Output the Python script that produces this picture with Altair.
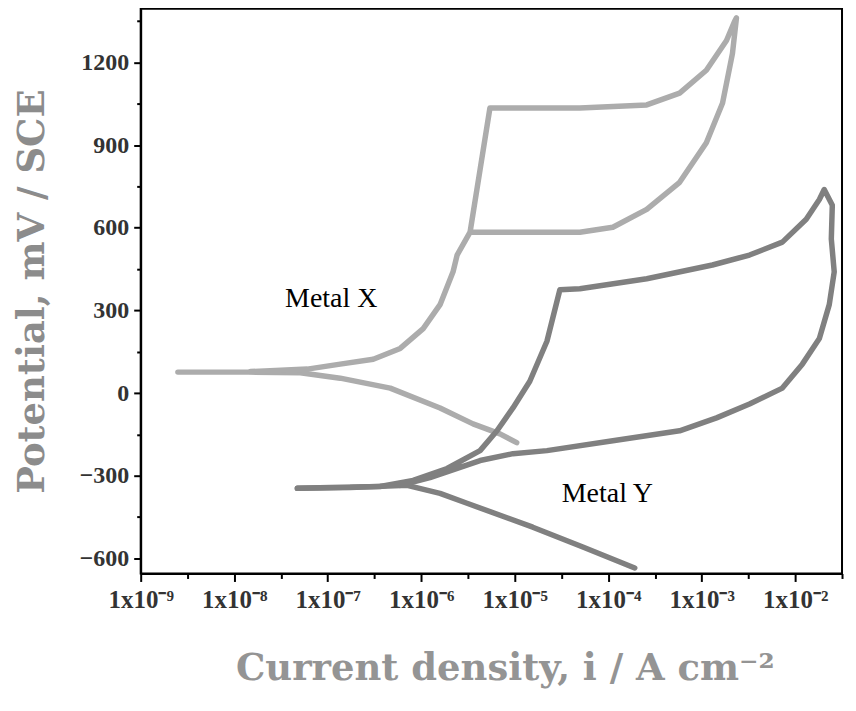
import altair as alt
import pandas as pd

# Metal X – cathodic branch (from high current back to E_corr)
x_cat_i = [1.05e-5, 6.95e-6, 3.58e-6, 1.59e-6, 4.66e-7, 1.36e-7, 5.1e-8, 1.5e-8, 2.5e-9]
x_cat_e = [-180, -148, -112, -54, 18, 54, 74, 76, 76]
# Metal X – anodic branch with reverse scan
x_an_i = [1.5e-8, 6.05e-8, 1.36e-7, 3.07e-7, 5.96e-7, 1.05e-6, 1.59e-6, 2.19e-6, 2.42e-6,
          3.33e-6, 4.26e-6, 5.43e-6, 5.9e-6, 4.97e-5, 2.58e-4, 5.8e-4, 1.12e-3, 1.84e-3,
          2.24e-3, 2.35e-3, 2.13e-3, 1.67e-3, 1.12e-3, 5.8e-4, 2.58e-4, 1.12e-4, 4.97e-5, 3.33e-6]
x_an_e = [78, 87, 105, 123, 162, 234, 321, 440, 501,
          584, 811, 1035, 1035, 1035, 1046, 1089, 1172, 1280,
          1349, 1362, 1233, 1053, 909, 765, 667, 602, 584, 584]

# Metal Y – cathodic branch
y_cat_i = [1.92e-4, 5.35e-5, 1.56e-5, 3.09e-6, 1.59e-6, 7.08e-7, 1.74e-7, 4.74e-8]
y_cat_e = [-635, -559, -487, -400, -364, -335, -343, -346]
# Metal Y – anodic branch with reverse scan
y_an_i = [4.74e-8, 1.07e-7, 3.64e-7, 8.2e-7, 1.89e-6, 4.26e-6, 6.46e-6, 9.57e-6, 1.45e-5,
          2.21e-5, 3.04e-5, 4.97e-5, 2.58e-4, 1.30e-3, 3.24e-3, 7.28e-3, 1.31e-2, 1.81e-2,
          2.04e-2, 2.49e-2, 2.43e-2, 2.61e-2, 2.31e-2, 1.81e-2, 1.19e-2, 7.28e-3, 3.24e-3,
          1.44e-3, 5.8e-4, 1.12e-4, 2.21e-5, 9.57e-6, 4.26e-6, 1.24e-6, 5.96e-7]
y_an_e = [-346, -343, -339, -317, -274, -209, -137, -54, 43,
          188, 375, 379, 415, 465, 501, 548, 631, 703,
          739, 682, 559, 440, 321, 198, 105, 18, -40,
          -90, -137, -173, -209, -220, -245, -307, -335]

labels = ["Metal X", "Metal Y"]
label_i = [1.09e-7, 9.8e-5]
label_e = [343, -368]

x_ticks = [10 ** (-9 + 0.5 * k) for k in range(16)]
y_ticks = list(range(-600, 1351, 150))
x_tick_text = ["1x10⁻⁹", "1x10⁻⁸", "1x10⁻⁷", "1x10⁻⁶", "1x10⁻⁵", "1x10⁻⁴", "1x10⁻³", "1x10⁻²"]

rows = []
def add(metal, branch, cur, pot):
    for k, (c, p) in enumerate(zip(cur, pot)):
        rows.append({"metal": metal, "branch": metal + branch, "i": c, "E": p, "o": k})
add("Metal X", "cat", x_cat_i, x_cat_e)
add("Metal X", "an", x_an_i, x_an_e)
add("Metal Y", "cat", y_cat_i, y_cat_e)
add("Metal Y", "an", y_an_i, y_an_e)
df = pd.DataFrame(rows)
lab_df = pd.DataFrame({"t": labels, "i": label_i, "E": label_e})

arr = "[" + ",".join("'" + s + "'" for s in x_tick_text) + "]"
lg = "log(datum.value)/LN10"
x_label_expr = f"abs({lg} - round({lg})) < 0.01 ? {arr}[round({lg}) + 9] : ''"

xscale = alt.Scale(type="log", domain=[1e-9, 10 ** -1.5], nice=False)
yscale = alt.Scale(domain=[-655, 1395], nice=False, zero=False)

x_axis = alt.Axis(
    values=x_ticks, labelExpr=x_label_expr, title="Current density, i / A cm⁻²",
    tickSize={"condition": {"test": f"abs({lg} - round({lg})) < 0.01", "value": 8}, "value": 5},
    labelFont="Liberation Serif", labelFontSize=25, labelFontWeight="bold", labelColor="#333333",
    labelPadding=6, labelFlush=False, labelOverlap=False,
    titleFont="DejaVu Serif", titleFontSize=37, titleFontWeight="bold", titleColor="#949494",
    titlePadding=38, titleX=365, titleAlign="center",
    domainColor="black", domainWidth=2, tickColor="black", tickWidth=2, grid=False,
)
y_axis = alt.Axis(
    values=y_ticks, labelExpr="datum.value % 300 === 0 ? format(datum.value, 'd') : ''",
    title="Potential, mV / SCE",
    tickSize={"condition": {"test": "datum.value % 300 === 0", "value": 7}, "value": 4},
    labelFont="Liberation Serif", labelFontSize=24, labelFontWeight="bold", labelColor="#333333",
    labelPadding=5, labelOverlap=False,
    titleFont="DejaVu Serif", titleFontSize=37, titleFontWeight="bold", titleColor="#8c8c8c",
    titlePadding=28, domainColor="black", domainWidth=2, tickColor="black", tickWidth=2, grid=False,
)

lines = alt.Chart(df).mark_line(strokeWidth=5.5, strokeCap="round", strokeJoin="round", clip=True).encode(
    x=alt.X("i:Q", scale=xscale, axis=x_axis),
    y=alt.Y("E:Q", scale=yscale, axis=y_axis),
    color=alt.Color("metal:N", scale=alt.Scale(domain=labels, range=["#acacac", "#808080"]), legend=None),
    detail="branch:N",
    order="o:Q",
)

texts = alt.Chart(lab_df).mark_text(font="Liberation Serif", fontSize=28, color="black").encode(
    x=alt.X("i:Q", scale=xscale), y=alt.Y("E:Q", scale=yscale), text="t:N"
)

chart = alt.layer(lines, texts).properties(
    width=703, height=566, padding={"left": 5, "top": 0, "right": 5, "bottom": 6}
).configure_view(stroke="black", strokeWidth=2)

chart.save("out.html", embed_options={"renderer": "svg", "actions": False})
